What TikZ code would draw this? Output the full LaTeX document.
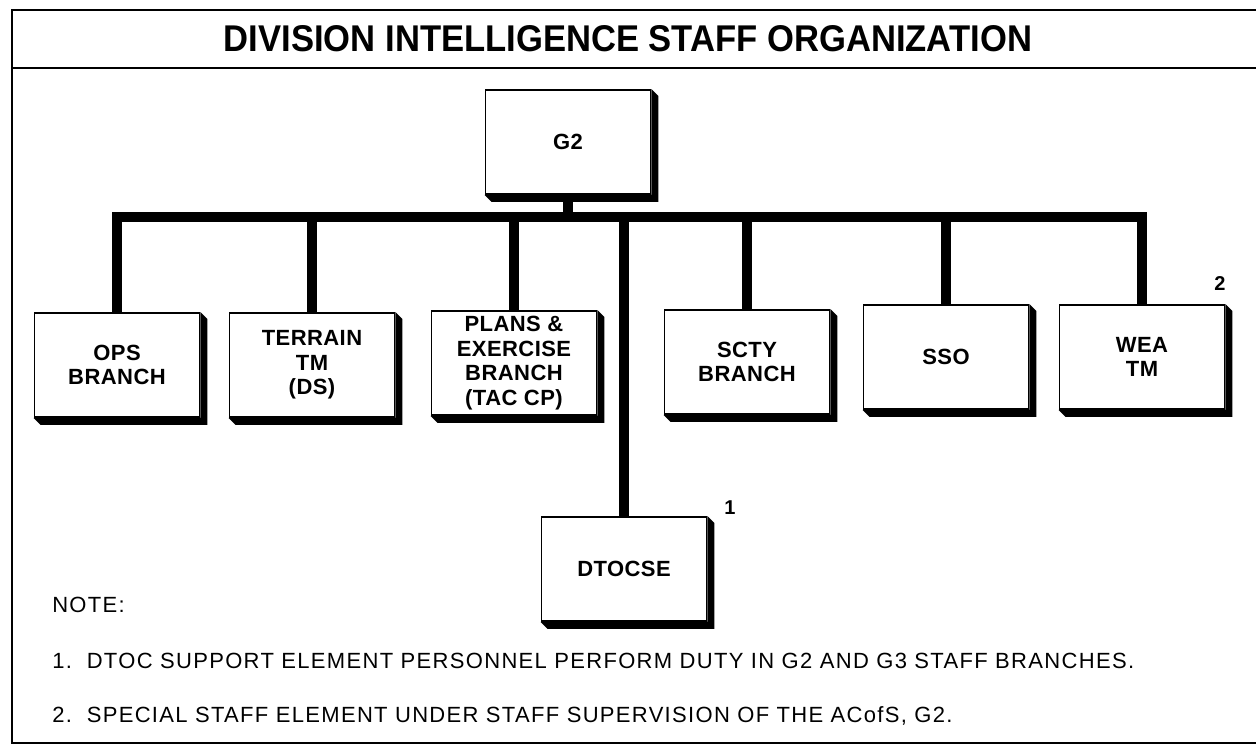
\documentclass[tikz,border=0pt]{standalone}
\usepackage{fontspec}
\setmainfont{Liberation Sans}
\newfontfamily\spacedfont[LetterSpace=6]{Liberation Sans}
\newfontfamily\boxfont[LetterSpace=2]{Liberation Sans}
\usetikzlibrary{positioning}

\begin{document}
\begin{tikzpicture}[x=0.75pt,y=-0.75pt,line join=miter]
\tikzstyle{unit}=[shape=rectangle,draw=black,line width=1.2pt,fill=white,align=center,inner sep=0pt,minimum width=124pt,minimum height=78pt,font=\boxfont\bfseries\fontsize{16.5}{18.5}\selectfont]
\tikzstyle{link}=[line width=7.5pt]
\tikzstyle{frame}=[line width=1.8pt]
\tikzstyle{remark}=[anchor=base west,inner sep=0pt,font=\spacedfont\fontsize{16.5}{18}\selectfont]
\useasboundingbox (0,0) rectangle (1256,749);
% frame and title
\draw[frame] (1256,10) -- (12,10) -- (12,743) -- (1256,743);
\draw[frame] (12,68) -- (1256,68);
\node (title) at (628,39) {\resizebox{606pt}{19.5pt}{\bfseries DIVISION INTELLIGENCE STAFF ORGANIZATION}};
% boxes
\node[unit] (g2) at (568,142) {G2};
\node[unit] (ops) at (117,365) {OPS\\BRANCH};
\node[unit] (terrain) at (312,365) {TERRAIN\\TM\\(DS)};
\node[unit] (plans) at (514,363) {PLANS \&\\EXERCISE\\BRANCH\\(TAC CP)};
\node[unit] (scty) at (747,362) {SCTY\\BRANCH};
\node[unit] (sso) at (946,357) {SSO};
\node[unit] (wea) at (1142,357) {WEA\\TM};
\node[unit] (dtocse) at (624,569) {DTOCSE};
\foreach \n in {g2,ops,terrain,plans,scty,sso,wea,dtocse}
  \fill (\n.north east) -- ++(7,7) -- ([shift={(7,7)}]\n.south east) -- ([shift={(7,7)}]\n.south west) -- (\n.south west) -- (\n.south east) -- cycle;
% links
\coordinate (bar) at (568,217);
\draw[link] (ops.north) -- (ops.north |- bar) -- (wea.north |- bar) -- (wea.north);
\foreach \n in {terrain,plans,scty,sso}
  \draw[link] (\n.north) -- (\n.north |- bar);
\draw[link] (g2.south) -- (bar);
\draw[link] (dtocse.north |- bar) -- (dtocse.north);
% note marks
\node[font=\bfseries\fontsize{15}{16}\selectfont] (mark1) at (730,508) {1};
\node[font=\bfseries\fontsize{15}{16}\selectfont] (mark2) at (1220,284) {2};
% notes
\node[remark] (note) at (52,612) {NOTE:};
\node[remark] (note1) at (52,668) {1.\ \ DTOC SUPPORT ELEMENT PERSONNEL PERFORM DUTY IN G2 AND G3 STAFF BRANCHES.};
\node[remark] (note2) at (52,722) {2.\ \ SPECIAL STAFF ELEMENT UNDER STAFF SUPERVISION OF THE ACofS, G2.};
\end{tikzpicture}
\end{document}
